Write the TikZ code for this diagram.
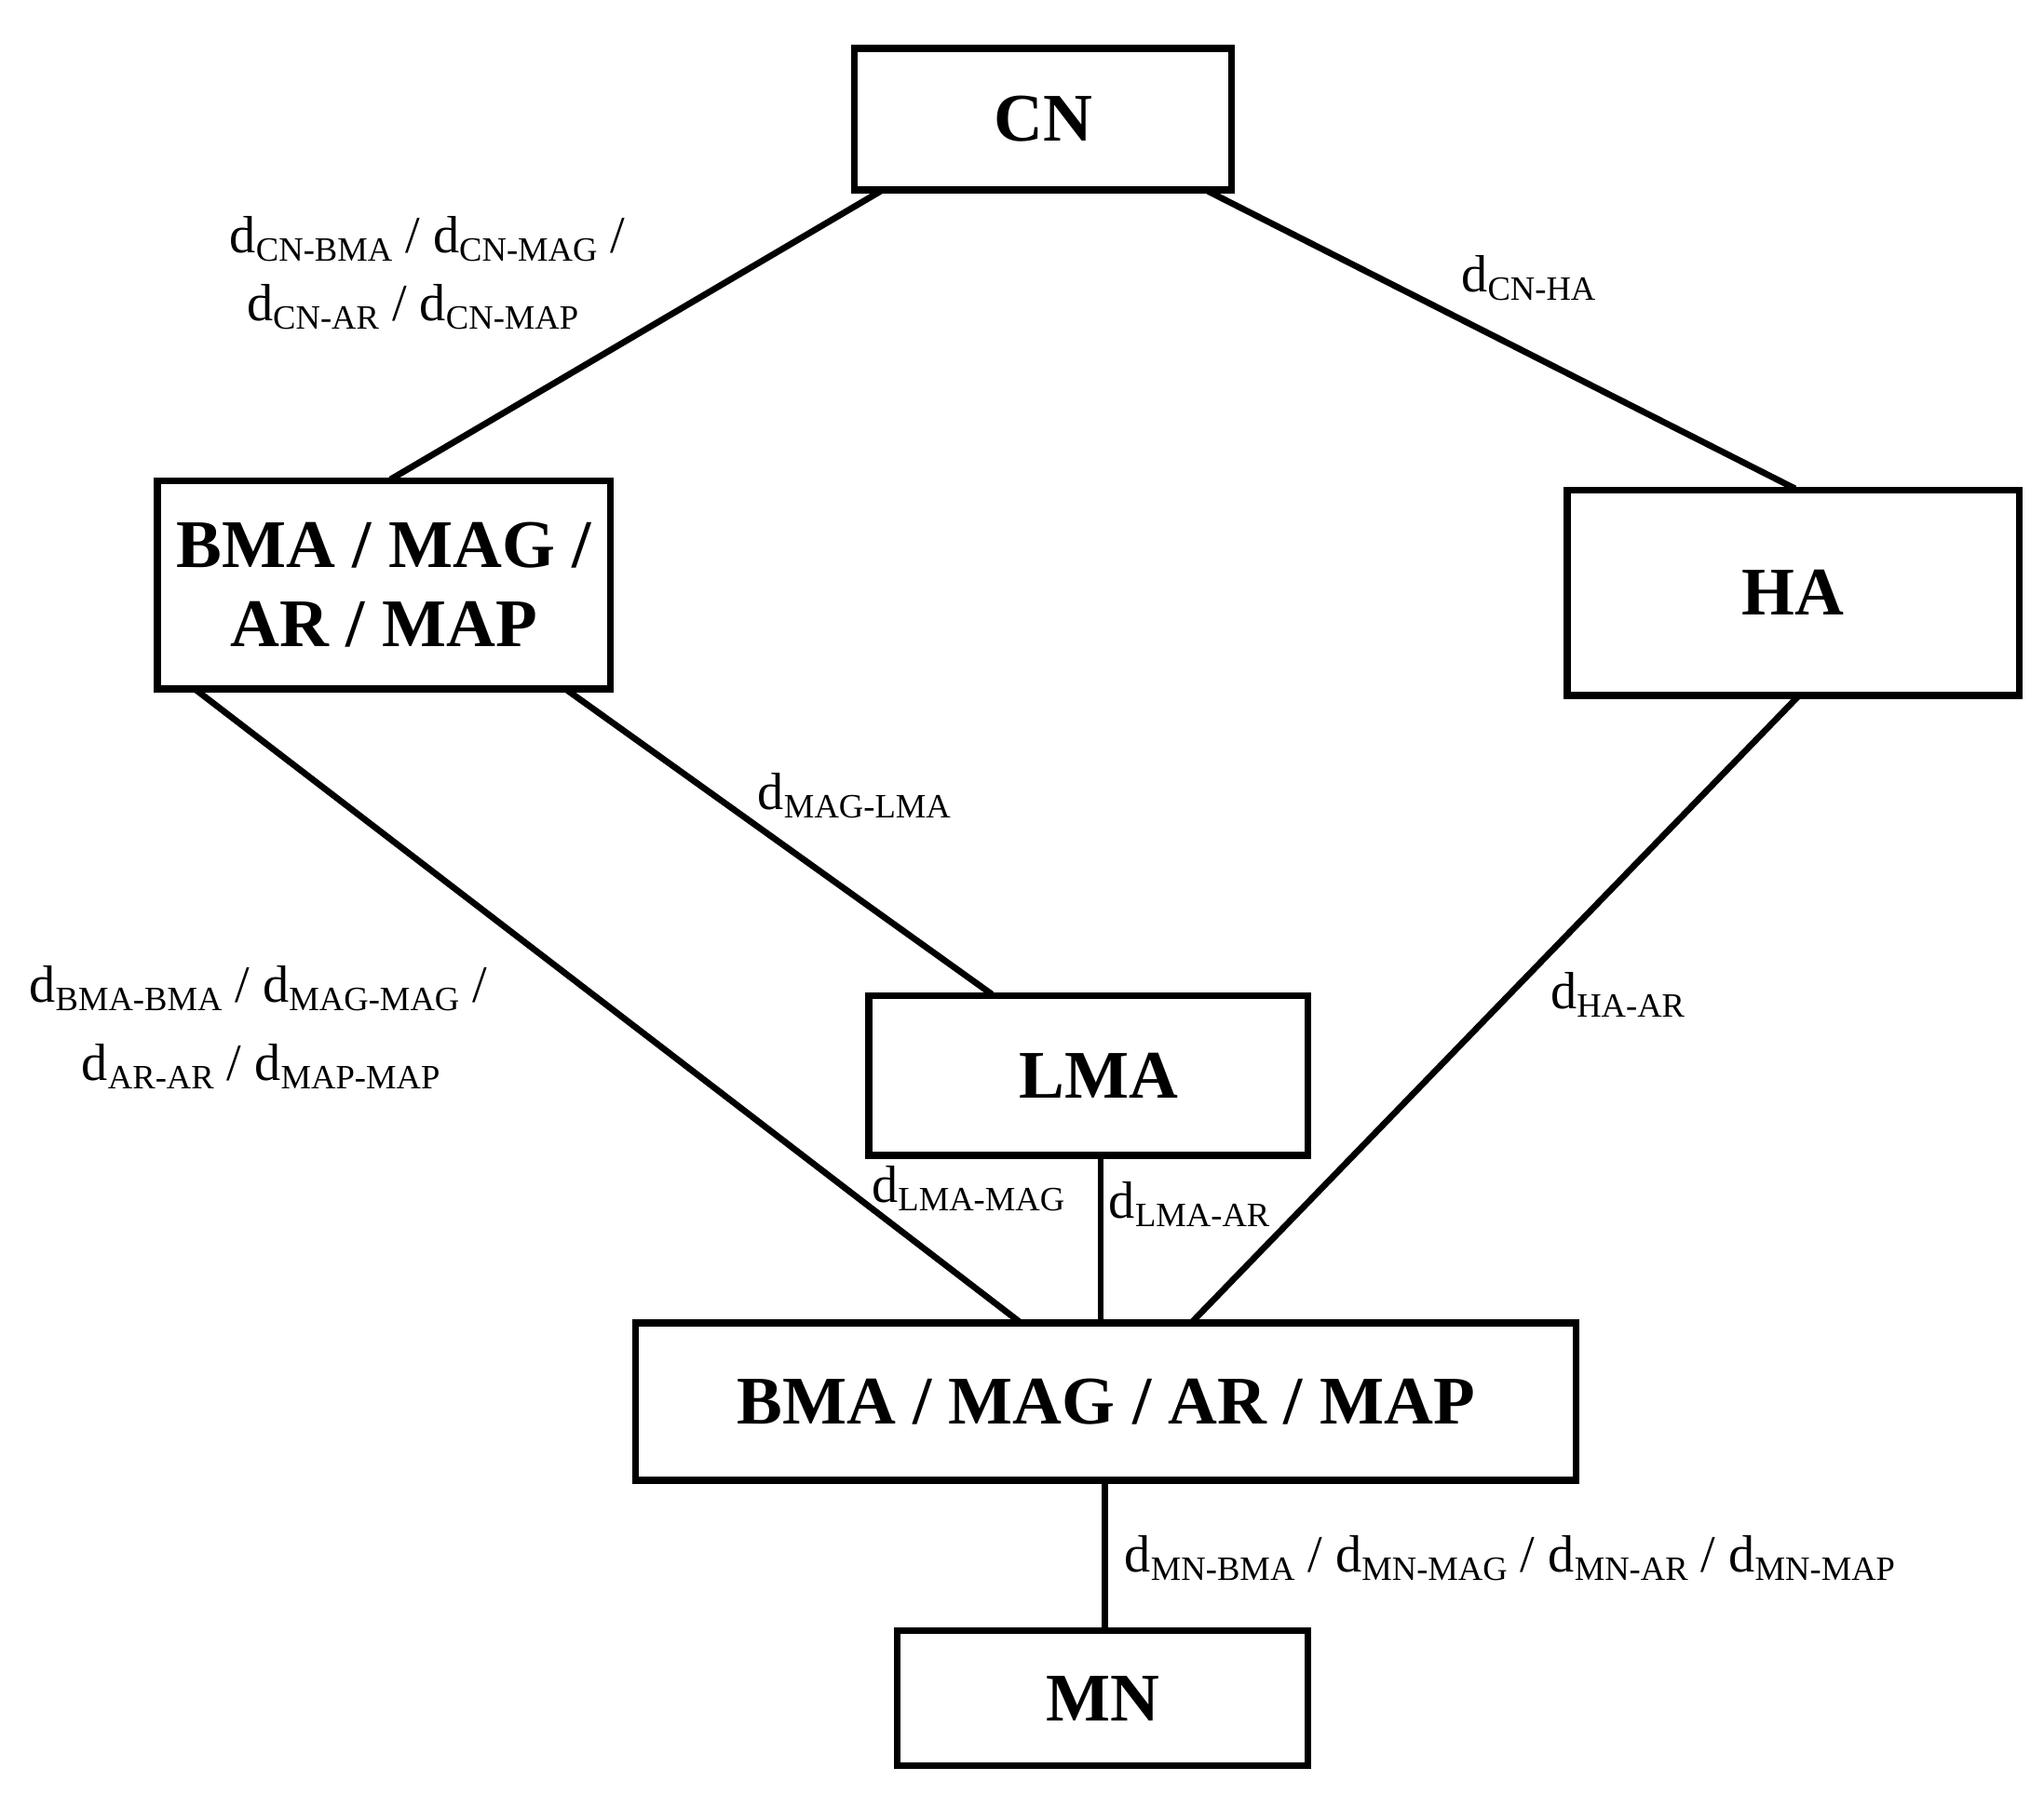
\documentclass[tikz,border=0pt]{standalone}
\usepackage{fontspec}
\setmainfont{Liberation Serif}
\newcommand{\dd}[1]{d\raisebox{-0.35ex}{\fontsize{13}{13}\selectfont #1}}
\begin{document}
\begin{tikzpicture}[x=0.5pt,y=-0.5pt,
  box/.style={draw,line width=2.6pt,inner sep=0pt,font=\fontsize{26}{30}\selectfont\bfseries,align=center},
  ln/.style={line width=2.4pt},
  lab/.style={anchor=base west,inner sep=0pt,font=\fontsize{20}{24}\selectfont}]
\useasboundingbox (0,0) rectangle (1560,1380);
\node[box,minimum width=144pt,minimum height=54pt] (cn) at (796,91) {CN};
\node[box,minimum width=173pt,minimum height=79.5pt] (l) at (293,446.5) {BMA / MAG /\\AR / MAP};
\node[box,minimum width=172.5pt,minimum height=78.5pt] (ha) at (1368.5,452.5) {HA};
\node[box,minimum width=167.5pt,minimum height=61pt] (lma) at (830.5,821) {\hspace*{8pt}LMA};
\node[box,minimum width=359pt,minimum height=60pt] (b) at (844,1070) {BMA / MAG / AR / MAP};
\node[box,minimum width=156.5pt,minimum height=51.5pt] (mn) at (841.5,1296.5) {MN};
\coordinate (a1) at (672,146); \coordinate (a2) at (298,366);
\coordinate (b1) at (922,146); \coordinate (b2) at (1370,373);
\coordinate (c1) at (150,527); \coordinate (c2) at (778,1009);
\coordinate (d1) at (433,527); \coordinate (d2) at (757,759);
\coordinate (e1) at (1372,532); \coordinate (e2) at (910,1009);
\coordinate (f1) at (840,882); \coordinate (f2) at (840,1009);
\coordinate (g1) at (843,1131); \coordinate (g2) at (843,1245);
\draw[ln] (a1)--(a2); \draw[ln] (b1)--(b2); \draw[ln] (c1)--(c2);
\draw[ln] (d1)--(d2); \draw[ln] (e1)--(e2); \draw[ln] (f1)--(f2); \draw[ln] (g1)--(g2);
\node[lab] (t1) at (175,193) {\dd{CN-BMA} / \dd{CN-MAG} /};
\node[lab] (t2) at (188,245) {\dd{CN-AR} / \dd{CN-MAP}};
\node[lab] (t3) at (1115,223) {\dd{CN-HA}};
\node[lab] (t4) at (578,618) {\dd{MAG-LMA}};
\node[lab] (t5) at (22,765) {\dd{BMA-BMA} / \dd{MAG-MAG} /};
\node[lab] (t6) at (62,825) {\dd{AR-AR} / \dd{MAP-MAP}};
\node[lab] (t7) at (1183,770) {\dd{HA-AR}};
\node[lab] (t8) at (665,918) {\dd{LMA-MAG}};
\node[lab] (t9) at (846,930) {\dd{LMA-AR}};
\node[lab] (t10) at (858,1200) {\dd{MN-BMA} / \dd{MN-MAG} / \dd{MN-AR} / \dd{MN-MAP}};
\end{tikzpicture}
\end{document}
